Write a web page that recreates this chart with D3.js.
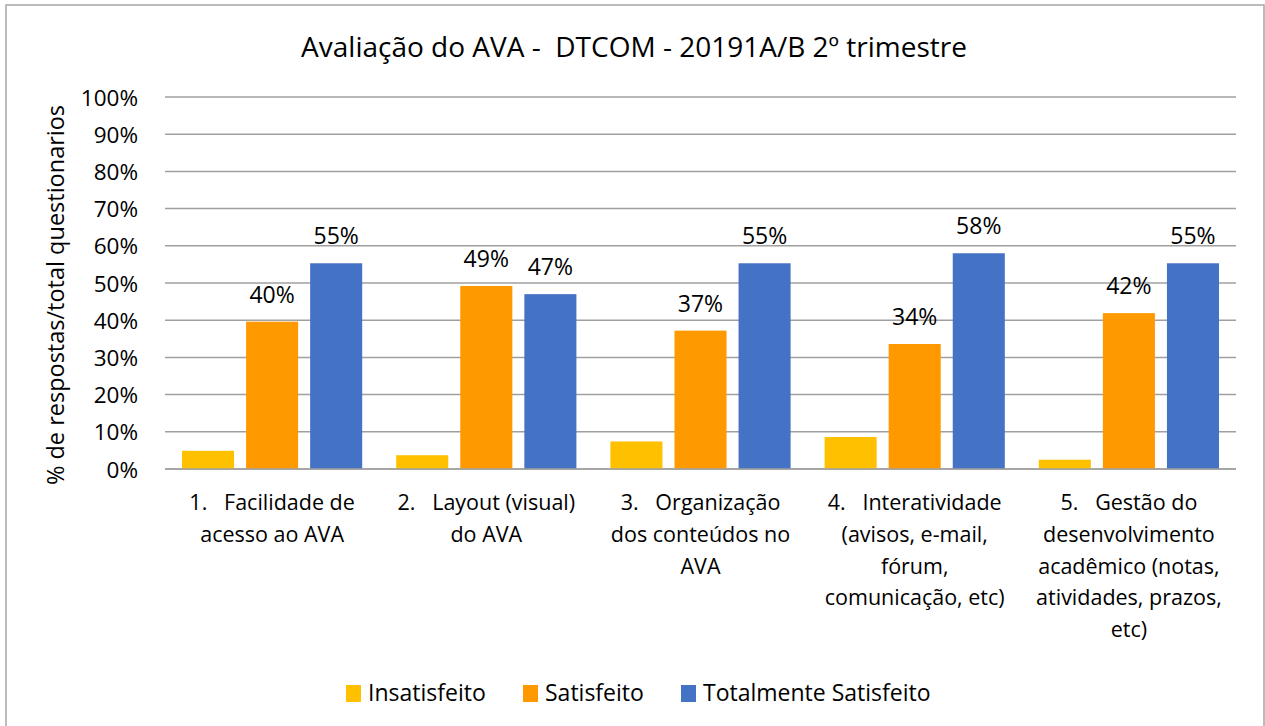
<!DOCTYPE html>
<html>
<head>
<meta charset="utf-8">
<script src="https://cdn.jsdelivr.net/npm/d3@7"></script>
<style>
  body { margin: 0; background: #fff; }
  svg { display: block; font-family: "Open Sans", Lato, sans-serif; }
  text { fill: #000; white-space: pre; }
</style>
</head>
<body>
<script>
// categories (each is a list of wrapped lines, as in the picture)
const categories = [
  ["1.   Facilidade de", "acesso ao AVA"],
  ["2.   Layout (visual)", "do AVA"],
  ["3.   Organização", "dos conteúdos no", "AVA"],
  ["4.   Interatividade", "(avisos, e-mail,", "fórum,", "comunicação, etc)"],
  ["5.   Gestão do", "desenvolvimento", "acadêmico (notas,", "atividades, prazos,", "etc)"]
];
const seriesNames = ["Insatisfeito", "Satisfeito", "Totalmente Satisfeito"];
const insatisfeito = [0.049, 0.037, 0.074, 0.086, 0.025];
const satisfeito = [0.396, 0.492, 0.372, 0.336, 0.419];
const totalmente = [0.553, 0.470, 0.553, 0.580, 0.553];
const yTicks = [0, 0.1, 0.2, 0.3, 0.4, 0.5, 0.6, 0.7, 0.8, 0.9, 1];

const colors = ["#FFC000", "#FF9900", "#4472C4"];
const labelled = [false, true, true];

const W = 1265, H = 726;
const plotLeft = 165, plotRight = 1236, plotTop = 97, plotBottom = 469;
const font = "'Open Sans', Lato, sans-serif";

const svg = d3.select("body").append("svg")
  .attr("width", W)
  .attr("height", H);

svg.append("rect")
  .attr("x", 6).attr("y", 5)
  .attr("width", 1258).attr("height", 730)
  .attr("fill", "#fff")
  .attr("stroke", "#a6a6a6")
  .attr("stroke-width", 1.5);

const values = [insatisfeito, satisfeito, totalmente];
const rows = categories.map((c, i) => ({
  idx: i,
  vals: seriesNames.map((s, j) => ({ j, v: values[j][i] }))
}));

const x0 = d3.scaleBand()
  .domain(d3.range(categories.length))
  .range([plotLeft, plotRight]);

const x1 = d3.scaleBand()
  .domain(d3.range(seriesNames.length))
  .range([17, x0.bandwidth() - 17])
  .paddingInner(0.1875);

const y = d3.scaleLinear()
  .domain([0, 1])
  .range([plotBottom, plotTop]);

// grid
svg.append("g")
  .selectAll("line")
  .data(yTicks)
  .join("line")
  .attr("x1", plotLeft).attr("x2", plotRight)
  .attr("y1", d => y(d)).attr("y2", d => y(d))
  .attr("stroke", "#a0a0a0")
  .attr("stroke-width", 1.5);

// y axis
const yAxis = svg.append("g")
  .attr("transform", `translate(${plotLeft - 27},0)`)
  .call(d3.axisLeft(y).tickValues(yTicks).tickSize(0).tickPadding(0).tickFormat(d3.format(".0%")));
yAxis.select(".domain").remove();
yAxis.selectAll("text")
  .attr("font-size", 22.5)
  .attr("font-family", font)
  .attr("fill", "#000")
  .attr("dy", "0.36em");

// bars
const groups = svg.append("g")
  .selectAll("g")
  .data(rows)
  .join("g")
  .attr("transform", d => `translate(${x0(d.idx)},0)`);

groups.selectAll("rect")
  .data(d => d.vals)
  .join("rect")
  .attr("x", d => x1(d.j))
  .attr("width", x1.bandwidth())
  .attr("y", d => y(d.v))
  .attr("height", d => y(0) - y(d.v))
  .attr("fill", d => colors[d.j]);

groups.selectAll("text.lbl")
  .data(d => d.vals.filter(v => labelled[v.j]))
  .join("text")
  .attr("class", "lbl")
  .attr("x", d => x1(d.j) + x1.bandwidth() / 2)
  .attr("y", d => y(d.v) - 19)
  .attr("text-anchor", "middle")
  .attr("font-size", 23)
  .text(d => d3.format(".0%")(d.v));

// baseline
svg.append("line")
  .attr("x1", plotLeft).attr("x2", plotRight)
  .attr("y1", y(0)).attr("y2", y(0))
  .attr("stroke", "#a0a0a0")
  .attr("stroke-width", 1.5);

// x axis labels
const xAxis = svg.append("g")
  .attr("transform", `translate(0,${plotBottom})`)
  .call(d3.axisBottom(x0).tickSize(0).tickFormat(""));
xAxis.select(".domain").remove();
xAxis.selectAll(".tick")
  .append("text")
  .attr("text-anchor", "middle")
  .attr("font-size", 21.5)
  .attr("font-family", font)
  .attr("fill", "#000")
  .selectAll("tspan")
  .data(i => categories[i])
  .join("tspan")
  .attr("x", 0)
  .attr("y", (d, k) => 41 + k * 31.8)
  .text(d => d);

// y title
svg.append("text")
  .attr("transform", "translate(64,295) rotate(-90)")
  .attr("text-anchor", "middle")
  .attr("font-size", 23.5)
  .text("% de respostas/total questionarios");

// title
svg.append("text")
  .attr("x", 634)
  .attr("y", 57)
  .attr("text-anchor", "middle")
  .attr("font-size", 28)
  .text("Avaliação do AVA -  DTCOM - 20191A/B 2º trimestre");

// legend
const legendX = [346, 523, 681];
const legend = svg.append("g")
  .selectAll("g")
  .data(seriesNames)
  .join("g")
  .attr("transform", (d, i) => `translate(${legendX[i]},0)`);
legend.append("rect")
  .attr("x", 0).attr("y", 685)
  .attr("width", 15).attr("height", 17)
  .attr("fill", (d, i) => colors[i]);
legend.append("text")
  .attr("x", 22).attr("y", 701)
  .attr("font-size", 23)
  .text(d => d);
</script>
</body>
</html>
